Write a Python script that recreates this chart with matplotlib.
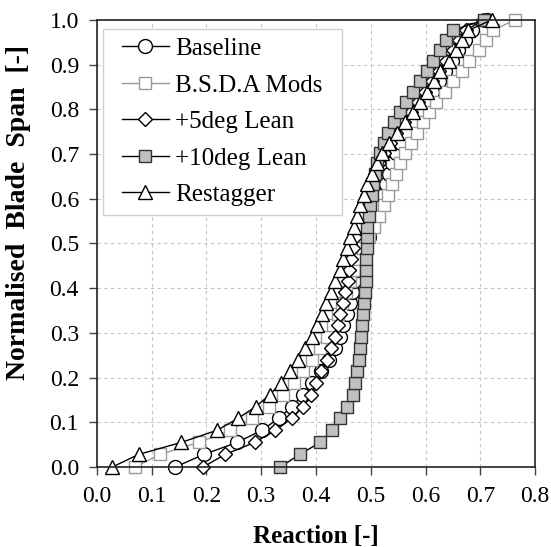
import numpy as np
import matplotlib
matplotlib.use("Agg")
import matplotlib.pyplot as plt
from matplotlib.patches import Rectangle
from matplotlib.ticker import FormatStrFormatter

# Normalised span stations (shared by all cases)
span = [0.000, 0.028, 0.055, 0.082, 0.109, 0.135, 0.162, 0.188, 0.214, 0.240,
        0.266, 0.291, 0.317, 0.342, 0.367, 0.392, 0.417, 0.441, 0.466, 0.490,
        0.514, 0.538, 0.562, 0.586, 0.609, 0.633, 0.656, 0.679, 0.702, 0.725,
        0.748, 0.771, 0.794, 0.817, 0.840, 0.863, 0.886, 0.909, 0.932, 0.955,
        0.977, 1.000]

# Reaction per case
baseline = [0.143, 0.195, 0.256, 0.301, 0.332, 0.356, 0.376, 0.392, 0.410, 0.424,
            0.434, 0.443, 0.450, 0.457, 0.462, 0.466, 0.470, 0.474, 0.480, 0.488,
            0.497, 0.505, 0.511, 0.517, 0.522, 0.528, 0.533, 0.539, 0.547, 0.556,
            0.566, 0.577, 0.588, 0.600, 0.612, 0.624, 0.636, 0.648, 0.660, 0.672,
            0.684, 0.712]
bsda_mods = [0.069, 0.115, 0.186, 0.243, 0.283, 0.314, 0.340, 0.360, 0.376, 0.392,
             0.408, 0.421, 0.431, 0.440, 0.448, 0.455, 0.462, 0.469, 0.477, 0.486,
             0.496, 0.506, 0.515, 0.524, 0.532, 0.539, 0.546, 0.554, 0.563, 0.573,
             0.584, 0.596, 0.606, 0.620, 0.636, 0.651, 0.666, 0.680, 0.697, 0.710,
             0.723, 0.763]
lean_5 = [0.194, 0.234, 0.288, 0.326, 0.356, 0.376, 0.390, 0.400, 0.410, 0.420,
          0.428, 0.434, 0.440, 0.444, 0.450, 0.453, 0.458, 0.461, 0.464, 0.468,
          0.472, 0.477, 0.482, 0.488, 0.494, 0.500, 0.507, 0.515, 0.524, 0.535,
          0.547, 0.560, 0.573, 0.586, 0.599, 0.612, 0.625, 0.638, 0.650, 0.662,
          0.674, 0.705]
lean_10 = [0.335, 0.370, 0.408, 0.429, 0.444, 0.456, 0.467, 0.471, 0.475, 0.478,
           0.480, 0.482, 0.484, 0.486, 0.488, 0.490, 0.491, 0.492, 0.492, 0.493,
           0.493, 0.494, 0.496, 0.499, 0.502, 0.505, 0.508, 0.512, 0.517, 0.524,
           0.532, 0.542, 0.554, 0.565, 0.577, 0.590, 0.602, 0.614, 0.626, 0.638,
           0.650, 0.707]
restagger = [0.028, 0.076, 0.154, 0.219, 0.258, 0.290, 0.316, 0.336, 0.353, 0.368,
             0.380, 0.392, 0.402, 0.411, 0.419, 0.427, 0.435, 0.443, 0.450, 0.457,
             0.463, 0.469, 0.475, 0.481, 0.487, 0.494, 0.502, 0.511, 0.520, 0.533,
             0.548, 0.562, 0.577, 0.590, 0.603, 0.615, 0.627, 0.642, 0.655, 0.667,
             0.678, 0.721]

plt.rcParams['font.family'] = ['Liberation Serif', 'DejaVu Serif']

fig = plt.figure(figsize=(5.51, 5.47), dpi=100)
ax = fig.add_axes([0.176, 0.1463, 0.795, 0.8171])

ms = 10
common = dict(lw=1.0, mew=1.0, clip_on=False)
ax.plot(baseline, span, '-o', color='black', ms=ms, mfc='white', mec='black',
        label='Baseline', **common)
ax.plot(bsda_mods, span, '-s', color='#9a9a9a', ms=ms - 1, mfc='white', mec='#9a9a9a',
        label='B.S.D.A Mods', **common)
ax.plot(lean_5, span, '-D', color='black', ms=ms - 2.5, mfc='white', mec='black',
        label='+5deg Lean', **common)
ax.plot(lean_10, span, '-s', color='black', ms=ms - 1, mfc='#c0c0c0', mec='#333333',
        label='+10deg Lean', **common)
ax.plot(restagger, span, '-^', color='black', ms=ms, mfc='white', mec='black',
        label='Restagger', **common)

ax.set_xlim(0.0, 0.8)
ax.set_ylim(0.0, 1.0)
ax.set_xticks(np.arange(0.0, 0.81, 0.1))
ax.set_yticks(np.arange(0.0, 1.01, 0.1))
ax.xaxis.set_major_formatter(FormatStrFormatter('%.1f'))
ax.yaxis.set_major_formatter(FormatStrFormatter('%.1f'))
ax.tick_params(direction='out', length=6, width=1.0, labelsize=17, color='#444444')
ax.tick_params(axis='x', pad=8)
ax.tick_params(axis='y', pad=7)
ax.grid(True, color='#c4c4c4', linestyle=(0, (3, 3)), linewidth=0.8)
ax.set_axisbelow(True)
for s in ax.spines.values():
    s.set_linewidth(1.2)
    s.set_color('#222222')

ax.set_xlabel('Reaction [-]', fontsize=18, fontweight='bold')
ax.xaxis.set_label_coords(0.5, -0.13)
ax.set_ylabel('Normalised  Blade  Span  [-]', fontsize=20, fontweight='bold')
ax.yaxis.set_label_coords(-0.15, 0.57)

# legend without frame, frame drawn separately so it can be wider than tall
leg = ax.legend(loc='upper left', bbox_to_anchor=(0.0365, 0.98), fontsize=18,
                frameon=False, handlelength=1.9, borderaxespad=0.0,
                labelspacing=0.56, handletextpad=0.25, borderpad=0.35)
fig.canvas.draw()
bb = leg.get_window_extent().transformed(ax.transAxes.inverted())
px = 10.0 / (ax.bbox.width)
ax.add_patch(Rectangle((bb.x0 - px, bb.y0), bb.width + 2 * px, bb.height,
                       transform=ax.transAxes, facecolor='white', edgecolor='#d0d0d0',
                       linewidth=1.0, zorder=4.5))

fig.savefig('out.png', dpi=100)
